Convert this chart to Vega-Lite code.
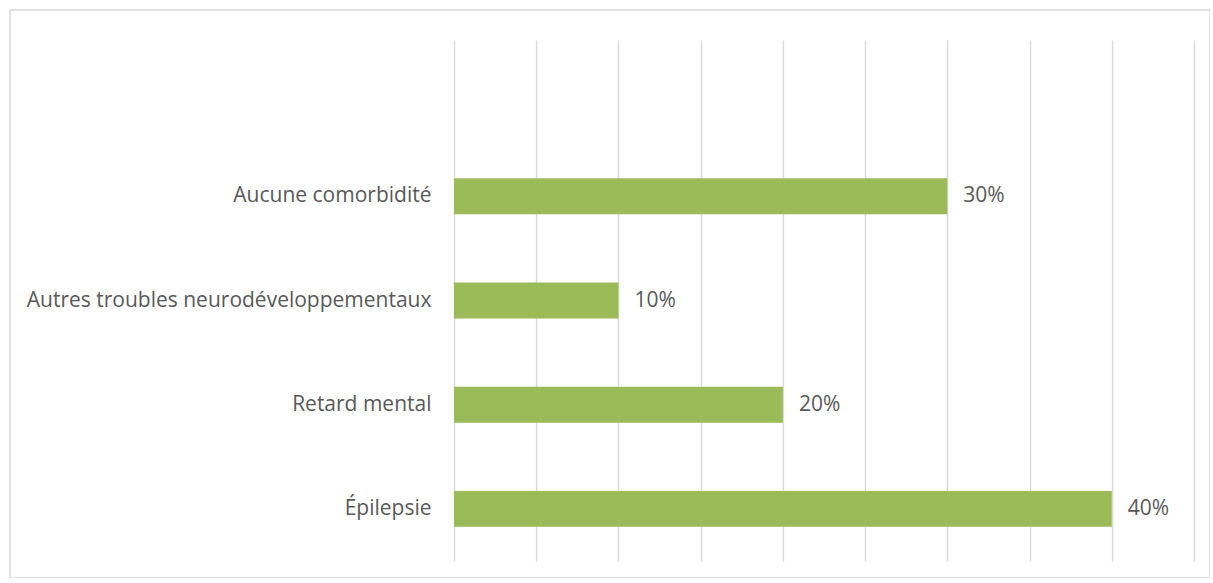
{
  "$schema": "https://vega.github.io/schema/vega-lite/v6.json",
  "autosize": {"type": "none"},
  "padding": {"left": 10, "top": 10, "right": 0, "bottom": 0},
  "width": 1200,
  "height": 568,
  "background": "white",
  "config": {
    "view": {"stroke": "#d9d9d9", "strokeWidth": 1.5},
    "font": "Open Sans"
  },
  "data": {
    "values": [
      {"categorie": "Aucune comorbidité", "part": 0.30},
      {"categorie": "Autres troubles neurodéveloppementaux", "part": 0.10},
      {"categorie": "Retard mental\u2005", "part": 0.20},
      {"categorie": "Épilepsie", "part": 0.40}
    ]
  },
  "encoding": {
    "y": {
      "field": "categorie",
      "type": "nominal",
      "sort": null,
      "scale": {
        "domain": [" ", "Aucune comorbidité", "Autres troubles neurodéveloppementaux", "Retard mental\u2005", "Épilepsie"],
        "range": [30, 551],
        "paddingInner": 0.655,
        "paddingOuter": 0.3275
      },
      "axis": {
        "title": null,
        "domain": false,
        "ticks": false,
        "tickSize": 0,
        "grid": false,
        "labelPadding": -421,
        "labelLimit": 0,
        "labelFont": "Open Sans",
        "labelFontSize": 21,
        "labelColor": "#595959"
      }
    },
    "x": {
      "field": "part",
      "type": "quantitative",
      "scale": {"domain": [0, 0.45], "range": [444, 1184], "nice": false, "zero": true},
      "axis": {
        "orient": "top",
        "title": null,
        "values": [0, 0.05, 0.1, 0.15, 0.2, 0.25, 0.3, 0.35, 0.4, 0.45],
        "labels": false,
        "ticks": false,
        "domain": false,
        "grid": true,
        "gridColor": "#d9d9d9",
        "gridWidth": 1.5
      }
    }
  },
  "layer": [
    {"mark": {"type": "bar", "color": "#9bbb59"}},
    {
      "mark": {"type": "text", "align": "left", "baseline": "middle", "dx": 16, "font": "Open Sans", "fontSize": 21, "color": "#595959"},
      "encoding": {"text": {"field": "part", "type": "quantitative", "format": ".0%"}}
    }
  ]
}
